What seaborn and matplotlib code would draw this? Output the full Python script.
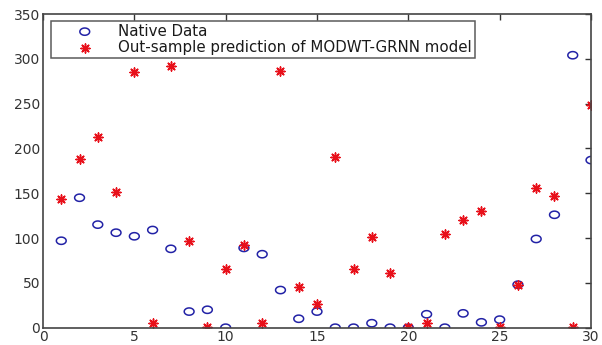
import seaborn as sns
import matplotlib.pyplot as plt
import numpy as np
from matplotlib.path import Path

sns.set_theme(style="white")
plt.rcParams['font.family'] = ['DejaVu Sans']

# time index and the two series
days = list(range(1, 31))
native = [97, 145, 115, 106, 102, 109, 88, 18, 20, 0,
          89, 82, 42, 10, 18, 0, 0, 5, 0, 0,
          15, 0, 16, 6, 9, 48, 99, 126, 304, 187]
predicted = [144, 188, 213, 151, 285, 5, 292, 97, 1, 66,
             92, 5, 286, 45, 27, 190, 66, 101, 61, 1,
             5, 105, 120, 130, 1, 48, 156, 147, 1, 249]
xticks = [0, 5, 10, 15, 20, 25, 30]
yticks = [0, 50, 100, 150, 200, 250, 300, 350]

# slightly wide open circle, like the stretched original
t = np.linspace(0, 2 * np.pi, 40)
ellipse = Path(np.column_stack([np.cos(t), 0.74 * np.sin(t)]), closed=True)

fig = plt.figure(figsize=(6.02, 3.45), dpi=100)
ax = fig.add_axes([43 / 602, 17.3 / 345, 548 / 602, 313.7 / 345])

sns.scatterplot(x=days, y=native, marker=ellipse, s=50, facecolor='none',
                edgecolor='#2222a6', linewidth=1.1, label='Native Data', ax=ax)
sns.scatterplot(x=days, y=predicted, marker=(8, 2, 0), s=42, color='#e8101a',
                edgecolor='#e8101a', linewidth=1.1,
                label='Out-sample prediction of MODWT-GRNN model', ax=ax)

ax.set_xlim(0, 30)
ax.set_ylim(0, 350)
ax.set_xticks(xticks)
ax.set_yticks(yticks)
ax.tick_params(direction='in', length=4, width=1, colors='#333333',
               labelsize=10, top=True, right=True, pad=2)
for sp in ax.spines.values():
    sp.set_visible(True)
    sp.set_color('#444444')
    sp.set_linewidth(1.2)

leg = ax.legend(loc='upper left', bbox_to_anchor=(0.0146, 0.979), borderaxespad=0,
                fontsize=10.8, frameon=True, fancybox=False, edgecolor='#333333',
                handlelength=4.1, handletextpad=0.15, borderpad=0.2, labelspacing=0.1)
leg.get_frame().set_linewidth(1.1)
for txt in leg.get_texts():
    txt.set_color('#1a1a1a')

fig.savefig('out.png', dpi=100)
